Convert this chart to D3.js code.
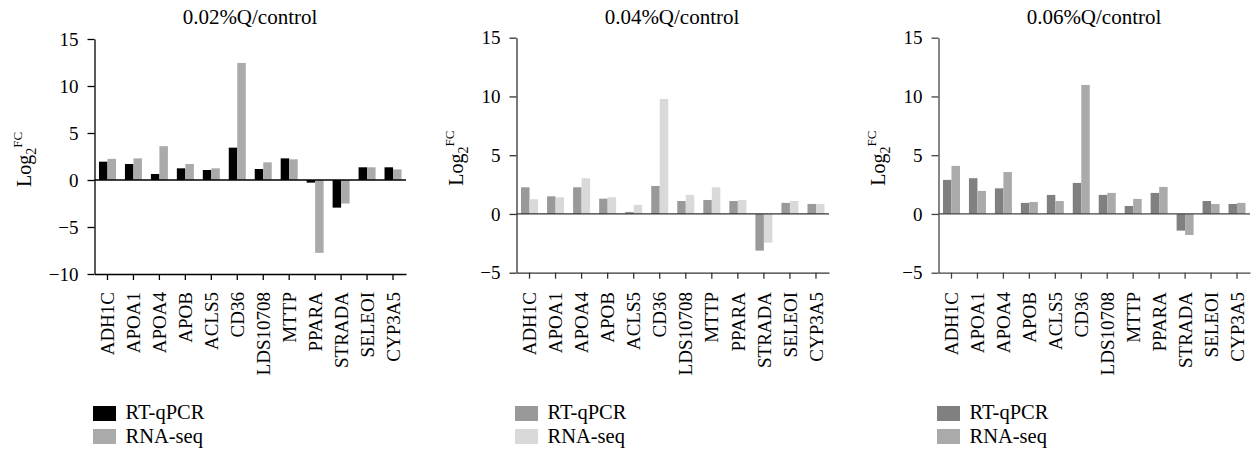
<!DOCTYPE html>
<html><head><meta charset="utf-8">
<script src="https://cdn.jsdelivr.net/npm/d3@7"></script>
<style>
body{margin:0;background:#fff;}
svg{display:block;}
svg text{font-family:"Liberation Serif","DejaVu Serif",serif !important;}
</style></head>
<body><svg id="c" width="1252" height="451"></svg>
<script>
const categories = ["ADH1C","APOA1","APOA4","APOB","ACLS5","CD36","LDS10708","MTTP","PPARA","STRADA","SELEOI","CYP3A5"];
const seriesNames = ["RT-qPCR","RNA-seq"];
const titles = ["0.02%Q/control","0.04%Q/control","0.06%Q/control"];

const rt002  = [1.95,1.7,0.64,1.24,1.06,3.44,1.17,2.3,-0.28,-2.94,1.35,1.35];
const rna002 = [2.25,2.3,3.6,1.7,1.24,12.45,1.88,2.2,-7.75,-2.5,1.35,1.13];
const rt004  = [2.27,1.5,2.27,1.3,0.17,2.38,1.1,1.19,1.1,-3.12,0.94,0.85];
const rna004 = [1.25,1.42,3.04,1.42,0.77,9.79,1.62,2.27,1.19,-2.44,1.1,0.85];
const rt006  = [2.9,3.04,2.18,0.94,1.62,2.64,1.62,0.68,1.79,-1.42,1.1,0.85];
const rna006 = [4.09,1.96,3.57,1.02,1.1,10.98,1.79,1.28,2.3,-1.79,0.85,0.94];

const yTicks1 = [-10,-5,0,5,10,15];
const yTicks23 = [-5,0,5,10,15];

const panels = [
  {title:titles[0], rt:rt002, rna:rna002, ticks:yTicks1, domain:[-10,15], x0:94.5, x1:406, yTop:39, yBot:274,
   colors:["#000000","#aaaaaa"], axis:"#000", labX:31, titleX:250},
  {title:titles[1], rt:rt004, rna:rna004, ticks:yTicks23, domain:[-5,15], x0:516.5, x1:829, yTop:37.7, yBot:272.7,
   colors:["#999999","#d9d9d9"], axis:"#333", labX:463, titleX:672},
  {title:titles[2], rt:rt006, rna:rna006, ticks:yTicks23, domain:[-5,15], x0:938.5, x1:1250, yTop:37.7, yBot:272.7,
   colors:["#808080","#aaaaaa"], axis:"#444", labX:885, titleX:1094}
];

const svg = d3.select("#c");

panels.forEach(p => {
  const g = svg.append("g");
  const x = d3.scaleBand().domain(categories).range([p.x0, p.x1]).padding(0);
  const xi = d3.scaleBand().domain(seriesNames).range([-8.5, 8.5]).padding(0);
  const y = d3.scaleLinear().domain(p.domain).range([p.yBot, p.yTop]);
  const color = d3.scaleOrdinal().domain(seriesNames).range(p.colors);

  g.append("text").attr("x", p.titleX).attr("y", 24).attr("text-anchor","middle")
    .attr("font-size", 21).attr("fill","#000").text(p.title);

  const rows = categories.map((c,i)=>({c, vals:[{s:seriesNames[0], v:p.rt[i]},{s:seriesNames[1], v:p.rna[i]}]}));
  const grp = g.selectAll("g.cat").data(rows).join("g")
    .attr("transform", d => `translate(${x(d.c)+x.bandwidth()/2},0)`);
  grp.selectAll("rect").data(d=>d.vals).join("rect")
    .attr("x", d => xi(d.s))
    .attr("width", xi.bandwidth())
    .attr("y", d => y(Math.max(0,d.v)))
    .attr("height", d => Math.abs(y(d.v)-y(0)))
    .attr("fill", d => color(d.s));

  g.append("line").attr("x1", p.x0).attr("x2", p.x1).attr("y1", y(0)).attr("y2", y(0))
    .attr("stroke", p.axis).attr("stroke-width", 1.3);

  const ya = g.append("g").attr("transform", `translate(${p.x0},0)`)
    .call(d3.axisLeft(y).tickValues(p.ticks).tickSize(7).tickPadding(9).tickSizeOuter(0)
      .tickFormat(d => d < 0 ? "\u2212" + Math.abs(d) : d));
  ya.attr("font-family", null);
  ya.select(".domain").attr("stroke", p.axis).attr("stroke-width", 1.3);
  ya.selectAll(".tick line").attr("stroke", p.axis).attr("stroke-width", 1.3);
  ya.selectAll(".tick text").attr("font-size", 19).attr("fill","#000");

  const xa = g.append("g").attr("transform", `translate(0,${p.yBot})`)
    .call(d3.axisBottom(x).tickSize(6).tickSizeOuter(0).tickPadding(12));
  xa.attr("font-family", null);
  xa.select(".domain").attr("stroke", p.axis).attr("stroke-width", 1.3);
  xa.selectAll(".tick line").attr("stroke", p.axis).attr("stroke-width", 1.3);
  xa.selectAll(".tick text").attr("font-size", 19).attr("fill","#000")
    .attr("text-anchor","end").attr("transform","rotate(-90)")
    .attr("x", -(292 - p.yBot)).attr("y", 0).attr("dy","0.35em");

  const cy = (p.yTop + p.yBot) / 2 + 3;
  const lab = g.append("text").attr("transform", `translate(${p.labX},${cy}) rotate(-90)`)
    .attr("text-anchor","middle").attr("font-size", 20).attr("fill","#000");
  lab.append("tspan").text("Log");
  lab.append("tspan").attr("font-size", 14).attr("dy", 5).text("2");
  lab.append("tspan").attr("font-size", 13).attr("dy", -14).text("FC");

  seriesNames.forEach((s,i) => {
    g.append("rect").attr("x", p.x0 - 1.5).attr("y", 406 + i*23).attr("width", 23).attr("height", 15)
      .attr("fill", color(s));
    g.append("text").attr("x", p.x0 + 31).attr("y", 419 + i*24).attr("font-size", 20.5).attr("fill","#000").text(s);
  });
});
</script></body></html>
